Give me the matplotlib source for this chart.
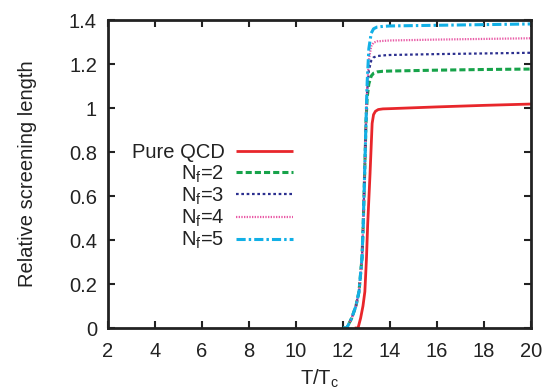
import matplotlib
matplotlib.use("Agg")
import matplotlib.pyplot as plt

plt.rcParams['font.family'] = ['Liberation Sans', 'DejaVu Sans']
plt.rcParams['mathtext.fontset'] = 'custom'
plt.rcParams['mathtext.rm'] = 'Liberation Sans'
plt.rcParams['mathtext.it'] = 'Liberation Sans:italic'

# ---- data ----
x_qcd = [12.5, 12.64, 12.75, 12.85, 12.93, 13.0, 13.05, 13.15, 13.24, 13.3, 13.38, 13.5, 13.7, 14, 16, 18, 20]
y_qcd = [0, 0, 0.045, 0.10, 0.165, 0.32, 0.47, 0.70, 0.93, 0.97, 0.985, 0.993, 0.996, 0.997, 1.005, 1.012, 1.018]

x_nf = [12.0, 12.16, 12.37, 12.55, 12.68, 12.81, 12.86, 12.92, 12.98, 13.03, 13.1, 13.2, 13.3, 13.45, 13.7, 14, 16, 18, 20]
y_nf2 = [0, 0, 0.045, 0.10, 0.165, 0.32, 0.47, 0.70, 0.94, 1.05, 1.11, 1.145, 1.158, 1.164, 1.167, 1.168, 1.172, 1.175, 1.177]
y_nf3 = [0, 0, 0.045, 0.10, 0.165, 0.32, 0.47, 0.70, 0.94, 1.08, 1.17, 1.215, 1.23, 1.236, 1.239, 1.241, 1.245, 1.248, 1.251]
y_nf4 = [0, 0, 0.045, 0.10, 0.165, 0.32, 0.47, 0.70, 0.94, 1.10, 1.22, 1.28, 1.297, 1.303, 1.305, 1.307, 1.311, 1.314, 1.317]
y_nf5 = [0, 0, 0.045, 0.10, 0.165, 0.32, 0.47, 0.70, 0.94, 1.12, 1.27, 1.34, 1.36, 1.368, 1.371, 1.373, 1.376, 1.379, 1.382]

labels = ["Pure QCD", r"N$_\mathregular{f}$=2", r"N$_\mathregular{f}$=3", r"N$_\mathregular{f}$=4", r"N$_\mathregular{f}$=5"]
x_ticks = [2, 4, 6, 8, 10, 12, 14, 16, 18, 20]
y_ticks = [0, 0.2, 0.4, 0.6, 0.8, 1.0, 1.2, 1.4]
y_ticklabels = ["0", "0.2", "0.4", "0.6", "0.8", "1", "1.2", "1.4"]

FS = 14.5
TXT = '#222222'

fig = plt.figure(figsize=(5.46, 3.92), dpi=100)
ax = fig.add_axes([108/546, 1-328/392, (531-108)/546, (328-20)/392])

ax.plot(x_qcd, y_qcd, color='#e8262b', lw=2.0, solid_capstyle='butt', label=labels[0])
ax.plot(x_nf, y_nf2, color='#17a34a', lw=2.2, linestyle=(0, (2.0, 1.0)), label=labels[1])
ax.plot(x_nf, y_nf3, color='#2b2f8f', lw=1.6, linestyle=(0, (1.2, 1.2)), label=labels[2])
ax.plot(x_nf, y_nf4, color='#e95aa6', lw=1.6, linestyle=(0, (0.6, 0.6)), label=labels[3])
ax.plot(x_nf, y_nf5, color='#12b0e6', lw=2.2, linestyle=(0, (3.0, 1.0, 0.8, 1.0)), label=labels[4])

ax.set_xlim(2, 20)
ax.set_ylim(0, 1.4)
ax.set_xticks(x_ticks)
ax.set_yticks(y_ticks)
ax.set_yticklabels(y_ticklabels)
ax.tick_params(direction='in', length=5, width=1.5, top=True, right=True, labelsize=FS, colors=TXT)
ax.tick_params(axis='x', pad=10)
ax.tick_params(axis='y', pad=8)
for s in ax.spines.values():
    s.set_linewidth(2)
    s.set_color(TXT)

ax.set_xlabel(r"T/T$_\mathregular{c}$", fontsize=FS, color=TXT, labelpad=5)
ax.set_ylabel("Relative screening length", fontsize=FS, color=TXT, labelpad=23)

leg = ax.legend(loc='upper right', bbox_to_anchor=(0.437, 0.60), frameon=False, markerfirst=False,
                fontsize=FS, handlelength=2.8, handletextpad=0.6, labelspacing=0.05,
                borderpad=0, borderaxespad=0)
for t in leg.get_texts():
    t.set_color(TXT)

fig.savefig("out.png", dpi=100)
